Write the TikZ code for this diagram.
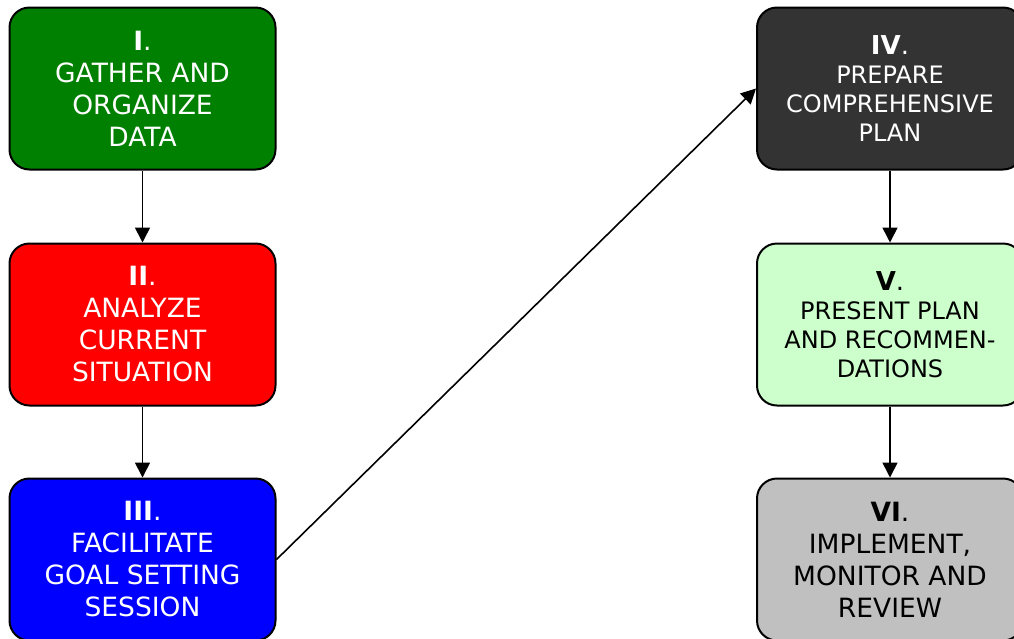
\documentclass[tikz,border=0pt]{standalone}
\usepackage{fontspec}
\setmainfont{DejaVu Sans}
\usetikzlibrary{arrows.meta}
\definecolor{cI}{HTML}{008000}
\definecolor{cII}{HTML}{FF0000}
\definecolor{cIII}{HTML}{0000FF}
\definecolor{cIV}{HTML}{333333}
\definecolor{cV}{HTML}{CCFFCC}
\definecolor{cVI}{HTML}{C0C0C0}
\begin{document}
\begin{tikzpicture}[x=1pt,y=-1pt,
  stage/.style={draw=black, line width=2pt, rounded corners=20pt,
    minimum width=266pt, minimum height=162pt, align=center, inner sep=0pt},
  big/.style={font=\fontsize{26.5}{32}\selectfont},
  small/.style={font=\fontsize{24}{29}\selectfont},
  num/.style={font=\fontsize{26}{32}\selectfont\bfseries},
  flow/.style={line width=1.6pt, -{Triangle[length=15pt,width=15pt]}}]
\useasboundingbox (0,0) rectangle (1014,638);
\clip (0,0) rectangle (1014,638);
\node[stage, fill=cI, text=white, big] (s1) at (142.5,88.5)
  {\textbf{I}.\\GATHER AND\\ORGANIZE\\DATA};
\node[stage, fill=cII, text=white, big] (s2) at (142.5,324.5)
  {\textbf{II}.\\ANALYZE\\CURRENT\\SITUATION};
\node[stage, fill=cIII, text=white, big] (s3) at (142.5,559.5)
  {\textbf{III}.\\FACILITATE\\GOAL SETTING\\SESSION};
\node[stage, fill=cIV, text=white, small] (s4) at (890,88.5)
  {{\fontsize{26}{32}\selectfont\textbf{IV}.}\\PREPARE\\COMPREHENSIVE\\PLAN};
\node[stage, fill=cV, text=black, small] (s5) at (890,324.5)
  {{\fontsize{26}{32}\selectfont\textbf{V}.}\\PRESENT PLAN\\AND RECOMMEN-\\DATIONS};
\node[stage, fill=cVI, text=black, big] (s6) at (890,559.5)
  {\textbf{VI}.\\IMPLEMENT,\\MONITOR AND\\REVIEW};
\draw[flow] (s1) -- (s2);
\draw[flow] (s2) -- (s3);
\draw[flow] (s3.east) -- (s4.west);
\draw[flow] (s4) -- (s5);
\draw[flow] (s5) -- (s6);
\end{tikzpicture}
\end{document}
